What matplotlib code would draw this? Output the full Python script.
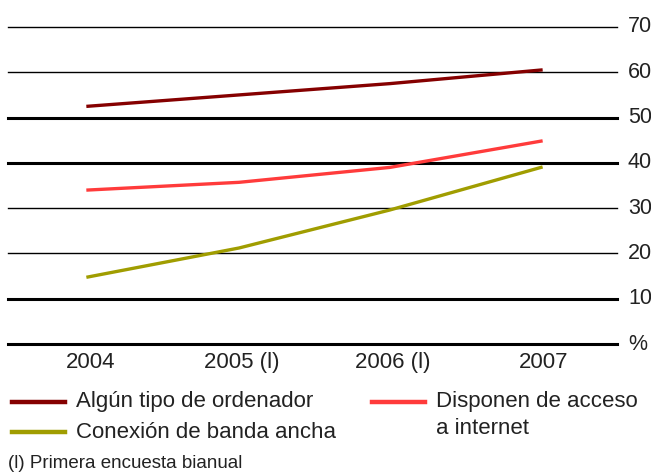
import matplotlib.pyplot as plt
from matplotlib.lines import Line2D

plt.rcParams['font.family'] = ['Liberation Sans', 'DejaVu Sans']

# datos (porcentaje de hogares)
years = ['2004', '2005 (l)', '2006 (l)', '2007']
ordenador = [52.5, 55.0, 57.5, 60.5]
internet = [34.0, 35.7, 39.0, 44.8]
banda_ancha = [14.8, 21.2, 29.6, 39.0]
y_ticks = [0, 10, 20, 30, 40, 50, 60, 70]
y_labels = ['%', '10', '20', '30', '40', '50', '60', '70']
thick_lines = [0, 10, 40, 50]

c_ord = '#850000'
c_int = '#ff3b3b'
c_ban = '#a09d00'
txt = '#222222'

W, H = 651, 473
fig = plt.figure(figsize=(W / 100, H / 100), dpi=100)
ax = fig.add_axes([8 / W, 1 - 344 / H, (617 - 8) / W, (344 - 27) / H])

x = list(range(len(years)))
ax.set_xlim(-80 / 151, 3 + 76 / 151)
ax.set_ylim(0, 70)

for v in y_ticks:
    lw = 2.2 if v in thick_lines else 1.0
    ax.axhline(v, color='black', lw=lw, zorder=1, clip_on=False)
    ax.text(1.018, v, y_labels[y_ticks.index(v)], transform=ax.get_yaxis_transform(),
            ha='left', va='center', fontsize=15.5, color=txt)

ax.plot(x, ordenador, color=c_ord, lw=2.4, zorder=3)
ax.plot(x, internet, color=c_int, lw=2.4, zorder=3)
ax.plot(x, banda_ancha, color=c_ban, lw=2.4, zorder=3)

for i, lab in enumerate(years):
    ax.text(i + 0.02, -4, lab, ha='center', va='center', fontsize=16, color=txt)

for s in ax.spines.values():
    s.set_visible(False)
ax.set_xticks([])
ax.set_yticks([])

# leyenda manual
def legend_item(x0, y0, color, lines):
    fig.add_artist(Line2D([x0 / W, (x0 + 53) / W], [1 - y0 / H, 1 - y0 / H],
                          color=color, lw=3.2))
    for k, t in enumerate(lines):
        fig.text((x0 + 64) / W, 1 - (y0 + 26 * k) / H, t, ha='left', va='center',
                 fontsize=16, color=txt)

legend_item(12, 402, c_ord, ['Algún tipo de ordenador'])
legend_item(12, 432, c_ban, ['Conexión de banda ancha'])
legend_item(372, 402, c_int, ['Disponen de acceso', 'a internet'])

fig.text(8 / W, 1 - 463 / H, '(l) Primera encuesta bianual', ha='left', va='center',
         fontsize=13.5, color=txt)

fig.savefig('out.png', dpi=100)
